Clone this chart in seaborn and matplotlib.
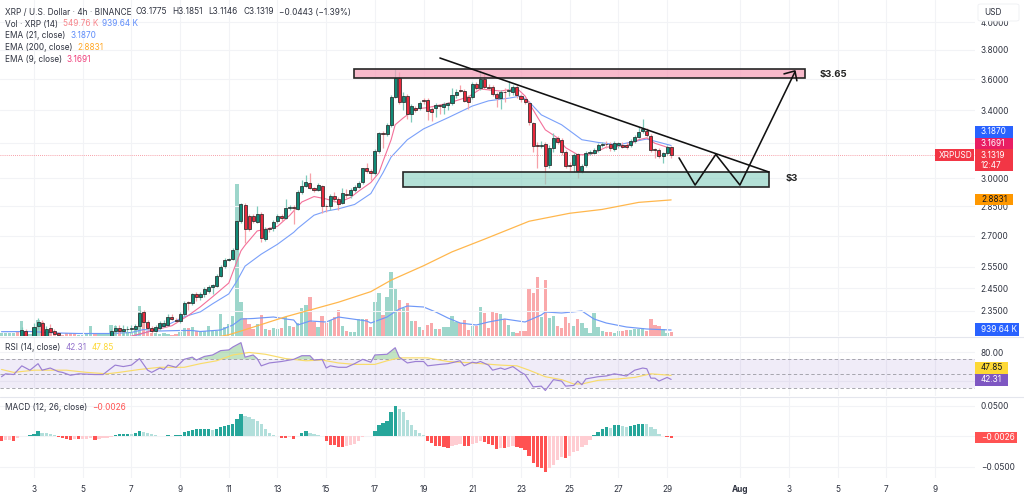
import numpy as np
import pandas as pd
import seaborn as sns
from matplotlib import pyplot as plt
from matplotlib.patches import FancyBboxPatch, Rectangle

# candle data (4h bars)
opens = [
    2.21, 2.22, 2.22, 2.21, 2.22, 2.235, 2.266, 2.22, 2.24, 2.285,
    2.299, 2.245, 2.278, 2.265, 2.256, 2.23, 2.23, 2.22, 2.22, 2.21,
    2.21, 2.22, 2.22, 2.23, 2.22, 2.22, 2.23, 2.245, 2.265, 2.278,
    2.265, 2.272, 2.274, 2.274, 2.287, 2.344, 2.303, 2.278, 2.265, 2.279,
    2.287, 2.292, 2.325, 2.312, 2.308, 2.335, 2.39, 2.385, 2.425, 2.41,
    2.425, 2.44, 2.458, 2.46, 2.506, 2.551, 2.582, 2.585, 2.633, 2.773,
    2.855, 2.798, 2.798, 2.77, 2.807, 2.685, 2.74, 2.74, 2.772, 2.798,
    2.79, 2.84, 2.845, 2.837, 2.927, 2.96, 2.975, 2.945, 2.934, 2.957,
    2.853, 2.853, 2.902, 2.89, 2.869, 2.915, 2.907, 2.934, 2.953, 2.978,
    3.058, 3.038, 3.027, 3.156, 3.264, 3.256, 3.311, 3.487, 3.61, 3.455,
    3.492, 3.378, 3.415, 3.417, 3.466, 3.466, 3.409, 3.415, 3.434, 3.423,
    3.434, 3.445, 3.498, 3.53, 3.525, 3.483, 3.483, 3.569, 3.541, 3.605,
    3.552, 3.548, 3.503, 3.477, 3.52, 3.522, 3.52, 3.552, 3.493, 3.472,
    3.449, 3.321, 3.191, 3.186, 3.195, 3.076, 3.172, 3.231, 3.221, 3.147,
    3.076, 3.076, 3.137, 3.038, 3.074, 3.143, 3.143, 3.158, 3.189, 3.197,
    3.197, 3.168, 3.187, 3.191, 3.191, 3.191, 3.211, 3.24, 3.272, 3.274,
    3.246, 3.168, 3.158, 3.123, 3.143, 3.1775,
]
closes = [
    2.22, 2.22, 2.23, 2.22, 2.21, 2.27, 2.235, 2.23, 2.283, 2.303,
    2.245, 2.274, 2.261, 2.253, 2.248, 2.22, 2.22, 2.21, 2.21, 2.21,
    2.22, 2.22, 2.23, 2.22, 2.22, 2.23, 2.24, 2.265, 2.278, 2.265,
    2.274, 2.274, 2.276, 2.287, 2.342, 2.303, 2.278, 2.265, 2.283, 2.299,
    2.299, 2.325, 2.316, 2.308, 2.338, 2.385, 2.385, 2.425, 2.41, 2.425,
    2.445, 2.458, 2.463, 2.506, 2.548, 2.582, 2.585, 2.628, 2.773, 2.859,
    2.735, 2.731, 2.772, 2.807, 2.687, 2.735, 2.735, 2.77, 2.798, 2.79,
    2.838, 2.845, 2.838, 2.927, 2.96, 2.978, 2.948, 2.934, 2.962, 2.85,
    2.85, 2.902, 2.89, 2.864, 2.922, 2.907, 2.934, 2.953, 2.975, 3.058,
    3.038, 3.03, 3.156, 3.264, 3.256, 3.311, 3.487, 3.61, 3.455, 3.492,
    3.378, 3.428, 3.403, 3.449, 3.458, 3.397, 3.392, 3.434, 3.428, 3.438,
    3.445, 3.498, 3.52, 3.525, 3.46, 3.455, 3.569, 3.541, 3.605, 3.548,
    3.545, 3.505, 3.477, 3.52, 3.516, 3.528, 3.552, 3.498, 3.47, 3.455,
    3.325, 3.186, 3.186, 3.19, 3.07, 3.172, 3.231, 3.21, 3.147, 3.07,
    3.07, 3.133, 3.038, 3.07, 3.143, 3.147, 3.158, 3.187, 3.197, 3.193,
    3.172, 3.201, 3.201, 3.181, 3.181, 3.215, 3.24, 3.27, 3.285, 3.25,
    3.162, 3.158, 3.123, 3.143, 3.178, 3.1319,
]
highs = [
    2.23, 2.23, 2.23, 2.23, 2.24, 2.28, 2.275, 2.24, 2.30, 2.32,
    2.312, 2.285, 2.295, 2.272, 2.262, 2.24, 2.24, 2.23, 2.23, 2.22,
    2.23, 2.23, 2.24, 2.23, 2.23, 2.24, 2.244, 2.275, 2.288, 2.29,
    2.29, 2.286, 2.288, 2.295, 2.355, 2.355, 2.31, 2.285, 2.29, 2.305,
    2.31, 2.335, 2.335, 2.32, 2.345, 2.392, 2.395, 2.43, 2.432, 2.432,
    2.455, 2.465, 2.47, 2.515, 2.558, 2.59, 2.592, 2.64, 2.78, 2.868,
    2.868, 2.81, 2.81, 2.85, 2.82, 2.745, 2.745, 2.78, 2.81, 2.81,
    2.89, 2.855, 2.855, 2.935, 2.99, 3.02, 3.03, 2.955, 2.972, 2.965,
    2.86, 2.915, 2.925, 2.90, 2.945, 2.94, 2.945, 2.965, 2.985, 3.06,
    3.085, 3.05, 3.165, 3.27, 3.275, 3.32, 3.495, 3.67, 3.65, 3.52,
    3.505, 3.44, 3.43, 3.46, 3.475, 3.475, 3.42, 3.445, 3.44, 3.45,
    3.455, 3.54, 3.535, 3.565, 3.535, 3.50, 3.585, 3.58, 3.665, 3.64,
    3.57, 3.56, 3.515, 3.53, 3.54, 3.59, 3.565, 3.565, 3.505, 3.48,
    3.46, 3.33, 3.21, 3.215, 3.205, 3.19, 3.26, 3.245, 3.23, 3.16,
    3.09, 3.145, 3.145, 3.08, 3.155, 3.16, 3.17, 3.20, 3.21, 3.215,
    3.205, 3.215, 3.21, 3.205, 3.21, 3.225, 3.25, 3.30, 3.345, 3.29,
    3.255, 3.175, 3.17, 3.15, 3.19, 3.1851,
]
lows = [
    2.20, 2.21, 2.20, 2.21, 2.20, 2.22, 2.23, 2.21, 2.23, 2.275,
    2.235, 2.23, 2.25, 2.245, 2.24, 2.21, 2.21, 2.20, 2.20, 2.20,
    2.21, 2.21, 2.21, 2.21, 2.21, 2.22, 2.23, 2.235, 2.253, 2.25,
    2.25, 2.255, 2.255, 2.265, 2.275, 2.28, 2.27, 2.258, 2.26, 2.27,
    2.28, 2.285, 2.31, 2.30, 2.30, 2.33, 2.355, 2.375, 2.395, 2.40,
    2.41, 2.43, 2.425, 2.455, 2.50, 2.545, 2.575, 2.58, 2.625, 2.765,
    2.665, 2.725, 2.765, 2.765, 2.67, 2.675, 2.72, 2.725, 2.765, 2.775,
    2.785, 2.83, 2.76, 2.83, 2.915, 2.95, 2.94, 2.925, 2.93, 2.815,
    2.82, 2.83, 2.87, 2.83, 2.86, 2.895, 2.895, 2.925, 2.945, 2.97,
    3.03, 2.99, 3.02, 3.145, 3.17, 3.245, 3.30, 3.475, 3.44, 3.40,
    3.345, 3.33, 3.39, 3.405, 3.44, 3.343, 3.335, 3.36, 3.38, 3.375,
    3.40, 3.435, 3.48, 3.515, 3.45, 3.41, 3.47, 3.53, 3.53, 3.535,
    3.53, 3.49, 3.42, 3.41, 3.455, 3.49, 3.495, 3.48, 3.455, 3.44,
    3.31, 3.15, 3.06, 3.17, 2.968, 3.055, 3.15, 3.195, 3.13, 3.055,
    3.04, 3.035, 3.004, 3.03, 3.065, 3.13, 3.135, 3.15, 3.18, 3.17,
    3.155, 3.155, 3.175, 3.17, 3.165, 3.18, 3.20, 3.23, 3.26, 3.24,
    3.15, 3.115, 3.115, 3.085, 3.13, 3.1146,
]
# volume in thousands
volumes = [
    471, 471, 471, 471, 628, 2355, 628, 314, 1256, 2512,
    2198, 628, 628, 471, 314, 157, 471, 471, 314, 157,
    157, 314, 1570, 471, 314, 314, 314, 1727, 1570, 785,
    942, 628, 471, 942, 4710, 2355, 785, 471, 471, 314,
    471, 314, 157, 314, 550, 1256, 1256, 1335, 785, 706,
    785, 1570, 785, 785, 3454, 1413, 1884, 3140, 23864, 5338,
    2826, 1884, 1099, 1884, 3297, 1099, 942, 1256, 1099, 1256,
    2983, 1570, 1413, 2041, 4396, 4867, 6123, 2198, 1413, 3140,
    2041, 2512, 2983, 4082, 1570, 785, 628, 628, 2669, 2669,
    2669, 1413, 5338, 6751, 3297, 6123, 10048, 7379, 5652, 4396,
    5181, 2355, 2355, 1413, 942, 1727, 2041, 1099, 1099, 1413,
    1413, 3140, 2198, 2041, 2512, 942, 1570, 1570, 4553, 3611,
    1256, 3925, 3611, 3454, 2669, 1727, 628, 471, 785, 785,
    7536, 6751, 9263, 2983, 8792, 2826, 3140, 1570, 1256, 2983,
    2041, 1570, 2669, 2041, 1256, 471, 3611, 1413, 785, 628,
    628, 471, 785, 785, 942, 942, 1099, 1099, 1256, 785,
    2669, 1727, 1570, 1099, 471, 549.76,
]
vol_ma_bars = [0, 7, 14, 19, 27, 32, 35, 39, 44, 47, 49, 54, 57, 59, 62, 67, 70, 72, 73, 76, 80, 83,
               90, 91, 95, 98, 100, 104, 107, 110, 113, 117, 120, 124, 129, 133, 134, 138, 143, 146,
               149, 154, 159, 165]
vol_ma = [675, 706, 471, 392, 392, 550, 1020, 785, 863, 863, 706, 942, 1727, 2669, 2747, 2983, 2669,
          2512, 1727, 2355, 2198, 2983, 2355, 2041, 2983, 4239, 4710, 4553, 3768, 2826, 2041, 1727,
          2198, 2669, 2198, 3297, 3768, 3611, 3925, 2669, 2041, 1413, 1099, 939.64]

ema21_bars = [30, 36, 41, 45, 49, 52, 56, 58, 60, 64, 68, 72, 73, 77, 80, 83, 87, 91, 94, 96, 100, 104,
              110, 116, 120, 125, 128, 130, 133, 138, 143, 147, 152, 156, 159, 165]
ema21 = [2.23, 2.261, 2.291, 2.325, 2.346, 2.381, 2.425, 2.483, 2.552, 2.609, 2.657, 2.716, 2.736,
         2.803, 2.824, 2.836, 2.859, 2.917, 3.031, 3.12, 3.221, 3.286, 3.354, 3.427, 3.46, 3.477,
         3.491, 3.454, 3.372, 3.311, 3.221, 3.205, 3.191, 3.211, 3.225, 3.187]
ema9_bars = [30, 36, 42, 46, 49, 52, 56, 57, 59, 60, 63, 65, 68, 71, 74, 77, 80, 83, 86, 88, 91, 93, 94,
             96, 97, 99, 102, 105, 110, 115, 118, 123, 127, 129, 132, 134, 137, 139, 142, 145, 149,
             154, 157, 159, 161, 165]
ema9 = [2.235, 2.261, 2.287, 2.33, 2.368, 2.412, 2.474, 2.524, 2.625, 2.652, 2.723, 2.731, 2.746,
        2.802, 2.872, 2.901, 2.888, 2.869, 2.896, 2.93, 2.977, 3.031, 3.095, 3.221, 3.311, 3.353,
        3.409, 3.417, 3.445, 3.485, 3.536, 3.523, 3.541, 3.491, 3.36, 3.28, 3.232, 3.174, 3.133,
        3.133, 3.177, 3.185, 3.221, 3.232, 3.2, 3.1691]
ema200_bars = [50, 56, 60, 70, 83, 91, 96, 104, 111, 119, 130, 140, 148, 157, 165]
ema200 = [2.23, 2.249, 2.27, 2.325, 2.388, 2.435, 2.487, 2.554, 2.62, 2.682, 2.772, 2.813, 2.833, 2.87, 2.8831]

rsi_bars = [0, 1, 3, 5, 7, 9, 10, 12, 14, 15, 17, 19, 23, 25, 28, 30, 32, 34, 36, 37, 39, 40, 41, 43,
            45, 47, 48, 50, 52, 54, 56, 57, 59, 60, 62, 63, 64, 66, 69, 72, 74, 76, 77, 79, 80, 81, 83,
            85, 87, 89, 91, 92, 95, 97, 98, 100, 102, 104, 105, 108, 110, 113, 114, 116, 117, 118,
            120, 121, 123, 124, 126, 128, 129, 131, 133, 134, 136, 138, 139, 141, 142, 143, 144, 147,
            149, 151, 154, 156, 158, 159, 160, 161, 162, 164, 165]
rsi = [46, 50, 49, 61, 55, 64, 55, 58, 53, 52, 48, 50, 49, 49, 62, 60, 62, 71, 55, 52, 58, 56, 62, 59,
       70, 73, 69, 74, 76, 82, 83, 87, 93, 73, 76, 71, 61, 65, 67, 70, 75, 75, 69, 70, 58, 61, 59,
       59, 64, 70, 66, 76, 77, 86, 73, 65, 67, 67, 61, 63, 64, 68, 61, 66, 65, 67,
       62, 55, 58, 56, 60, 52, 49, 32, 33, 27, 42, 40, 33, 34, 40, 35, 43, 46,
       47, 50, 47, 55, 58, 57, 44, 44, 40, 45, 42.31]
rsi_ma_bars = [0, 3, 8, 16, 21, 26, 29, 34, 39, 45, 49, 53, 57, 61, 65, 70, 75, 79, 83, 87, 92, 95, 98,
               105, 110, 116, 123, 127, 130, 134, 138, 141, 143, 147, 152, 156, 160, 165]
rsi_ma = [56, 52, 55, 55, 52, 50, 52, 56, 59, 59, 64, 68, 76, 79.5, 77, 71, 68, 69, 65, 63, 63, 68, 72,
          72, 67, 65, 62, 61, 55, 46, 42, 36, 36, 41, 43, 45, 50, 47.85]

macd_hist = [
    -.0071, -.0065, -.0060, -.0076, -.0027, .0005, .0011, .0022, .0043, .0081,
    .0060, .0054, .0033, .0016, -.0016, -.0022, -.0038, -.0060, -.0043, -.0046,
    -.0043, -.0038, -.0033, -.0054, -.0043, -.0033, -.0022, -.0011, .0022, .0033,
    .0038, .0043, .0033, .0049, .0081, .0065, .0054, .0033, .0016, .0005,
    .0011, .0016, .0011, .0022, .0027, .0065, .0092, .0109, .0114, .0117,
    .0119, .0125, .0109, .0125, .0152, .0174, .0185, .0201, .0282, .0369,
    .0326, .0315, .0282, .0250, .0206, .0119, .0054, .0016, .0005, -.0022,
    -.0033, -.0016, -.0038, .0011, .0054, .0081, .0060, .0043, .0016, .0005,
    -.0081, -.0136, -.0147, -.0174, -.0174, -.0163, -.0147, -.0119, -.0081, -.0016,
    .0005, .0011, .0092, .0190, .0217, .0255, .0391, .0505, .0451, .0396,
    .0272, .0190, .0109, .0054, .0016, -.0076, -.0109, -.0152, -.0163, -.0179,
    -.0195, -.0163, -.0136, -.0119, -.0152, -.0163, -.0119, -.0109, -.0071, -.0092,
    -.0119, -.0136, -.0201, -.0190, -.0195, -.0174, -.0163, -.0174, -.0195, -.0217,
    -.0315, -.0445, -.0500, -.0516, -.0581, -.0516, -.0478, -.0391, -.0337, -.0358,
    -.0326, -.0250, -.0244, -.0174, -.0147, -.0054, .0022, .0076, .0125, .0152,
    .0141, .0179, .0182, .0168, .0157, .0163, .0179, .0195, .0209, .0195,
    .0152, .0114, .0043, .0005, -.0011, -.0026,
]

price_ticks = [4.0, 3.8, 3.6, 3.4, 3.2, 3.0, 2.85, 2.7, 2.55, 2.45, 2.35]
price_labels = ["4.0000", "3.8000", "3.6000", "3.4000", "", "3.0000", "2.8500", "2.7000", "2.5500", "2.4500", "2.3500"]
day_ticks = [3, 5, 7, 9, 11, 13, 15, 17, 19, 21, 23, 25, 27, 29, 32, 34, 36, 38, 40]
day_labels = ["3", "5", "7", "9", "11", "13", "15", "17", "19", "21", "23", "25", "27", "29", "Aug", "3", "5", "7", "9"]

W, H = 1024, 499
TEXT = "#2f3340"
GRID = "#f2f3f6"
FONT = 5.95

sns.set_theme(style="white")
plt.rcParams["font.family"] = ["Inter", "DejaVu Sans"]


def bar_x(bars):
    # first bar sits at day 1 + 4/6, then six bars a day
    return 1 + 4 / 6 + np.asarray(bars, dtype=float) / 6


def pane(fig, top, bottom):
    return fig.add_axes([0, 1 - bottom / H, 975 / W, (bottom - top) / H])


def line(ax, bars, values, color, lw=0.8):
    sns.lineplot(x=bar_x(bars), y=values, ax=ax, color=color, linewidth=lw, legend=False,
                 estimator=None, errorbar=None, sort=False)


def label(x, y, s, color=TEXT, size=FONT, **kwargs):
    fig.text(x / W, 1 - y / H, s, color=color, fontsize=size, va="center", **kwargs)


def badge(x0, x1, y0, y1, s, color, text_color="white", tx=None):
    fig.patches.append(Rectangle((x0 / W, 1 - y1 / H), (x1 - x0) / W, (y1 - y0) / H, transform=fig.transFigure,
                                 facecolor=color, edgecolor="none", zorder=5))
    label(tx if tx else x0 + 6, (y0 + y1) / 2, s, color=text_color, zorder=6)


fig = plt.figure(figsize=(W / 100, H / 100), dpi=100, facecolor="white")
ax_price = pane(fig, 0, 336)
ax_vol = ax_price.twinx()
ax_rsi = pane(fig, 337, 396)
ax_macd = pane(fig, 397, 478)

days = bar_x(np.arange(len(opens)))
df = pd.DataFrame({"day": days, "open": opens, "high": highs, "low": lows, "close": closes, "volume": volumes})
df["up"] = df["close"] >= df["open"]
df["body_low"] = df[["open", "close"]].min(axis=1)
df["body_high"] = df[["open", "close"]].max(axis=1)

# volume sits behind the candles
ax_price.set_zorder(2)
ax_vol.set_zorder(1)
ax_price.patch.set_visible(False)
ax_vol.bar(df["day"], df["volume"], width=0.135, color=np.where(df["up"], "#9dd6cb", "#faa9ab"), linewidth=0)
line(ax_vol, vol_ma_bars, vol_ma, "#6f98f8", 0.85)
ax_vol.set_ylim(0, 336 * 157)
ax_vol.axis("off")

ax_price.set_yscale("log")
ax_price.vlines(df["day"], df["low"], df["high"], colors=np.where(df["up"], "#7fcabb", "#f7a1a8"), linewidth=0.9, zorder=3)
ax_price.bar(df["day"], df["body_high"] - df["body_low"], bottom=df["body_low"], width=0.125,
             color=np.where(df["up"], "#0f8a76", "#e8283c"), edgecolor="#2b2b2b", linewidth=0.55, zorder=4)
line(ax_price, ema200_bars, ema200, "#ffb74d", 0.9)
line(ax_price, ema21_bars, ema21, "#7aa0fa", 0.8)
line(ax_price, ema9_bars, ema9, "#f4709a", 0.8)
ax_price.axhline(3.1319, color="#f4808c", linestyle=(0, (1, 1.5)), linewidth=0.6, zorder=2)

# hand-drawn setup on top of the chart
ax_price.add_patch(Rectangle((16.14, 3.607), 18.54, 3.669 - 3.607, facecolor=(0.96, 0.62, 0.72, 0.72),
                             edgecolor="#262626", linewidth=1.2, zorder=6))
ax_price.add_patch(Rectangle((18.15, 2.954), 15.03, 3.035 - 2.954, facecolor=(0.55, 0.82, 0.76, 0.65),
                             edgecolor="#262626", linewidth=1.2, zorder=6))
setup_line = dict(color="#111111", linewidth=1.15, zorder=7, solid_capstyle="round")
ax_price.plot([19.67, 33.18], [3.744, 3.035], **setup_line)
ax_price.plot([29.49, 30.15, 31.0, 31.99, 34.25], [3.115, 2.963, 3.135, 2.963, 3.649], **setup_line)
ax_price.plot([33.80, 34.25, 34.33], [3.636, 3.656, 3.59], **setup_line)
ax_price.text(35.25, 3.635, "$3.65", fontsize=6.8, fontweight="bold", color="#222222", va="center", zorder=7)
ax_price.text(33.88, 3.0, "$3", fontsize=6.8, fontweight="bold", color="#222222", va="center", zorder=7)

ax_price.set_ylim(2.244, 4.166)
ax_price.set_yticks(price_ticks)
ax_price.set_yticklabels(price_labels)
ax_price.minorticks_off()

# RSI pane
ax_rsi.axhspan(30, 70, color="#7e57c2", alpha=0.11, linewidth=0)
for level in [70, 50, 30]:
    ax_rsi.axhline(level, color="#9a9aa2", linestyle=(0, (4, 3)), linewidth=0.6)
rsi_x = bar_x(rsi_bars)
rsi_arr = np.array(rsi)
ax_rsi.fill_between(rsi_x, rsi_arr, 70, where=rsi_arr > 70, interpolate=True, color="#66bb6a", alpha=0.4, linewidth=0)
line(ax_rsi, rsi_ma_bars, rsi_ma, "#f9dc6b", 0.85)
line(ax_rsi, rsi_bars, rsi, "#9b7fd4", 0.85)
ax_rsi.set_ylim(19.4, 100.8)
ax_rsi.set_yticks([80, 40])
ax_rsi.set_yticklabels(["80.00", ""])

# MACD pane, colour follows sign and whether the bar grew
hist = np.array(macd_hist)
grew = np.diff(hist, prepend=hist[0]) > 0
hist_colors = np.where(hist >= 0, np.where(grew, "#26a69a", "#b2dfdb"), np.where(grew, "#ffcdd2", "#ff5252"))
ax_macd.bar(days, hist, width=0.135, color=hist_colors, linewidth=0)
ax_macd.axhline(0, color="#b4b6bd", linestyle=(0, (4, 3)), linewidth=0.6, zorder=0)
ax_macd.set_ylim(-0.0683, 0.0645)
ax_macd.set_yticks([0.05, 0, -0.05])
ax_macd.set_yticklabels(["0.0500", "", "\u22120.0500"])

for ax in [ax_price, ax_rsi, ax_macd]:
    ax.set_xlim(1.604, 41.645)
    ax.set_xticks(day_ticks)
    ax.grid(True, color=GRID, linewidth=0.8)
    ax.set_axisbelow(True)
    ax.yaxis.tick_right()
    ax.tick_params(axis="y", length=0, pad=4.2, labelsize=FONT, labelcolor=TEXT, right=False, labelright=True)
    ax.tick_params(axis="x", length=0, labelbottom=False)
    sns.despine(ax=ax, left=True, bottom=True, right=True, top=True)

ax_macd.set_xticklabels(day_labels)
ax_macd.tick_params(axis="x", labelbottom=True, pad=5, labelsize=FONT, labelcolor=TEXT)
ax_macd.get_xticklabels()[day_labels.index("Aug")].set_fontweight("bold")

# pane separators
for y in [336.5, 396.5]:
    fig.add_artist(plt.Line2D([0, 1], [1 - y / H, 1 - y / H], color="#e4e6ed", linewidth=0.8))

# legends, top left of each pane
label(5, 12, "XRP / U.S. Dollar \u00b7 4h \u00b7 BINANCE")
label(135, 12, "O3.1775")
label(172, 12, "H3.1851")
label(208, 12, "L3.1146")
label(243, 12, "C3.1319")
label(279, 12, "\u22120.0443 (\u22121.39%)")
label(5, 24, "Vol \u00b7 XRP (14)")
label(63, 24, "549.76 K", color="#f7868c")
label(102, 24, "939.64 K", color="#5f8dfa")
label(5, 35.5, "EMA (21, close)")
label(71, 35.5, "3.1870", color="#5f8dfa")
label(5, 47, "EMA (200, close)")
label(77, 47, "2.8831", color="#ffa726")
label(5, 59, "EMA (9, close)")
label(67, 59, "3.1691", color="#f0407c")
label(5, 348, "RSI (14, close)")
label(66, 348, "42.31", color="#9575cd")
label(92, 348, "47.85", color="#fdd835")
label(5, 408, "MACD (12, 26, close)")
label(92, 408, "\u22120.0026", color="#ff5252")

# currency box and last value tags on the price scale
fig.patches.append(FancyBboxPatch((978 / W, 1 - 21 / H), 41 / W, 17 / H, boxstyle="round,pad=0,rounding_size=0.003",
                                  transform=fig.transFigure, facecolor="white", edgecolor="#eeeff3", linewidth=0.6, zorder=5))
label(984, 12.5, "USD", zorder=6)
badge(975, 1013, 126, 137.5, "3.1870", "#2962ff", tx=981)
badge(975, 1013, 137.5, 149, "3.1691", "#e91e63", tx=981)
badge(975, 1013, 149, 171, "3.1319", "#f23645", tx=981)
fig.texts[-1].set_y(1 - 155 / H)
label(981, 165, "12:47", color="white", zorder=6)
badge(935, 974, 149, 161, "XRPUSD", "#f23645", tx=939)
badge(975, 1013, 194, 205, "2.8831", "#ff9800", text_color="#131722", tx=981)
badge(975, 1019, 323, 336, "939.64 K", "#2962ff", tx=981)
badge(975, 1008, 362, 373.5, "47.85", "#fdd835", text_color="#131722", tx=981)
badge(975, 1008, 374, 385.5, "42.31", "#7e57c2", tx=981)
badge(975, 1017, 432, 443, "\u22120.0026", "#ff5252", tx=981)

fig.savefig("out.png", dpi=100)
